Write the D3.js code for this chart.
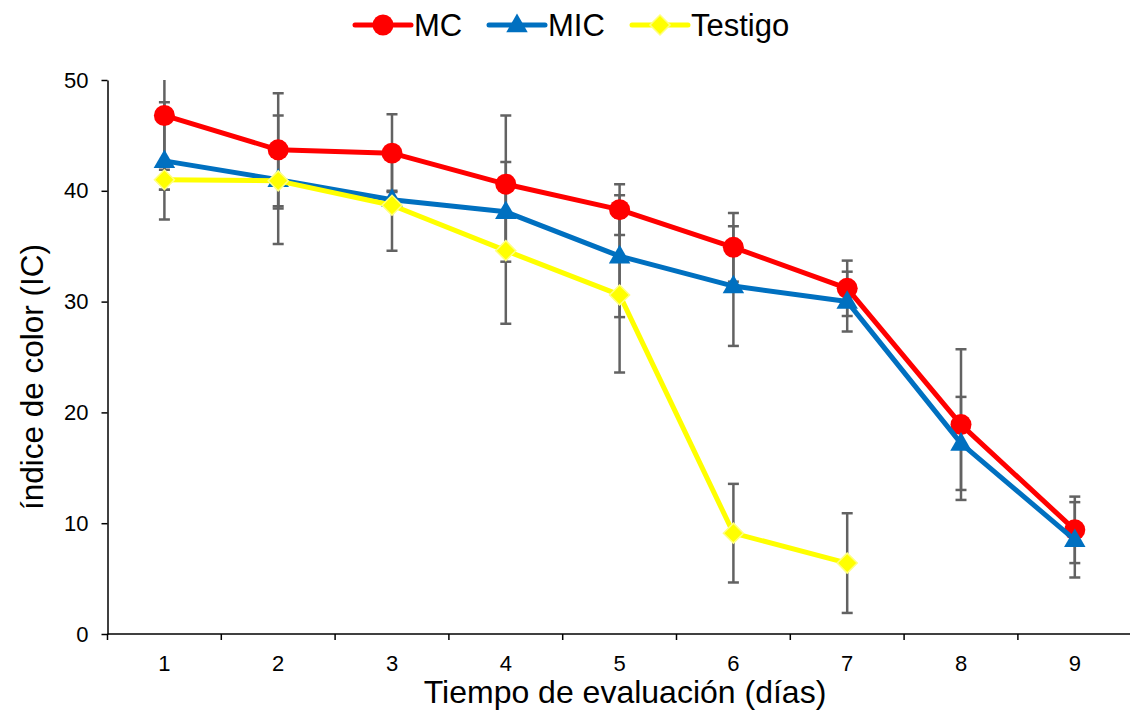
<!DOCTYPE html>
<html>
<head>
<meta charset="utf-8">
<script src="https://cdn.jsdelivr.net/npm/d3@7"></script>
<style>
  body { margin: 0; background: #fff; }
  text { font-family: "Liberation Sans", Arial, sans-serif; fill: #000; }
</style>
</head>
<body>
<div id="chart"></div>
<script>
// días de evaluación
const days = ["1", "2", "3", "4", "5", "6", "7", "8", "9"];

// índice de color, media por tratamiento
const mcValues = [46.8, 43.7, 43.4, 40.6, 38.3, 34.9, 31.2, 18.9, 9.4];
const micValues = [42.7, 41.0, 39.2, 38.1, 34.1, 31.4, 30.0, 17.2, 8.5];
const testigoValues = [41.0, 40.9, 38.7, 34.6, 30.6, 9.1, 6.4, null, null];

// desviación (barras de error)
const mcErr = [6.7, 5.1, 3.5, 6.2, 2.3, 3.1, 2.5, 6.8, 3.0];
const micErr = [5.3, 5.8, 0.8, 4.5, 5.5, 5.4, 2.7, 4.2, 3.4];
const testigoErr = [0.9, 2.5, 4.1, 6.6, 7.0, 4.45, 4.5, null, null];

const yTicks = [0, 10, 20, 30, 40, 50];

const seriesNames = ["MC", "MIC", "Testigo"];

const W = 1130, H = 721;
const margin = {top: 80, left: 107.5, bottom: 87};
const plotW = 113.8 * days.length;
const plotH = H - margin.top - margin.bottom;

const series = [
  {name: seriesNames[0], values: mcValues, err: mcErr, color: "#FF0000", symbol: "circle"},
  {name: seriesNames[1], values: micValues, err: micErr, color: "#0070C0", symbol: "triangle"},
  {name: seriesNames[2], values: testigoValues, err: testigoErr, color: "#FFFF00", symbol: "diamond"}
];

const svg = d3.select("#chart")
  .append("svg")
    .attr("width", W)
    .attr("height", H);

const g = svg.append("g")
    .attr("transform", `translate(${margin.left},${margin.top})`);

const x = d3.scaleBand()
    .domain(days)
    .range([0, plotW]);

const y = d3.scaleLinear()
    .domain([0, 50])
    .range([plotH, 0]);

svg.append("clipPath").attr("id", "plotClip")
  .append("rect")
    .attr("x", 0).attr("y", 0)
    .attr("width", plotW).attr("height", plotH);

// eje Y
g.append("g")
    .call(d3.axisLeft(y).tickValues(yTicks).tickSize(6).tickSizeOuter(0).tickPadding(13))
    .call(a => a.select(".domain").attr("stroke", "#000").attr("stroke-width", 1.5))
    .call(a => a.selectAll(".tick line").attr("stroke", "#000").attr("stroke-width", 1.5))
    .call(a => a.selectAll("text").attr("font-size", "22px"));

// eje X: marcas entre categorías
const xAxis = g.append("g").attr("transform", `translate(0,${plotH})`);
xAxis.append("line")
    .attr("x1", 0).attr("x2", plotW)
    .attr("stroke", "#000").attr("stroke-width", 1.5);
xAxis.selectAll("line.tk")
  .data(days.concat(["end"]))
  .enter().append("line")
    .attr("class", "tk")
    .attr("x1", (d, i) => i * x.step())
    .attr("x2", (d, i) => i * x.step())
    .attr("y1", 0).attr("y2", 6)
    .attr("stroke", "#000").attr("stroke-width", 1.5);
xAxis.selectAll("text")
  .data(days)
  .enter().append("text")
    .attr("x", d => x(d) + x.bandwidth() / 2)
    .attr("y", 37)
    .attr("text-anchor", "middle")
    .attr("font-size", "22px")
    .text(d => d);

// títulos
svg.append("text")
    .attr("x", 625)
    .attr("y", 703)
    .attr("text-anchor", "middle")
    .attr("font-size", "32px")
    .text("Tiempo de evaluación (días)");

svg.append("text")
    .attr("transform", "translate(43,377) rotate(-90)")
    .attr("text-anchor", "middle")
    .attr("font-size", "31.5px")
    .text("índice de color (IC)");

// barras de error
const errG = g.append("g").attr("clip-path", "url(#plotClip)");
series.forEach(s => {
  s.values.forEach((v, i) => {
    if (v == null) return;
    const cx = x(days[i]) + x.bandwidth() / 2;
    const e = s.err[i];
    const eg = errG.append("g").attr("stroke", "#626262").attr("stroke-width", 2.5);
    eg.append("line").attr("x1", cx).attr("x2", cx).attr("y1", y(v + e)).attr("y2", y(v - e));
    eg.append("line").attr("x1", cx - 5.5).attr("x2", cx + 5.5).attr("y1", y(v + e)).attr("y2", y(v + e));
    eg.append("line").attr("x1", cx - 5.5).attr("x2", cx + 5.5).attr("y1", y(v - e)).attr("y2", y(v - e));
  });
});

const symbolFor = {
  circle: d3.symbol().type(d3.symbolCircle).size(346),
  triangle: d3.symbol().type(d3.symbolTriangle).size(200),
  diamond: d3.symbol().type(d3.symbolSquare).size(200)
};

function drawMarker(sel, s, cx, cy) {
  const p = sel.append("path")
    .attr("d", symbolFor[s.symbol]())
    .attr("fill", s.color);
  if (s.symbol === "diamond") {
    p.attr("transform", `translate(${cx},${cy}) rotate(45)`)
     .attr("stroke", "#FFFF80").attr("stroke-width", 1.5);
  } else if (s.symbol === "triangle") {
    p.attr("transform", `translate(${cx},${cy + 1})`);
  } else {
    p.attr("transform", `translate(${cx},${cy})`);
  }
}

// líneas y marcadores
const line = d3.line()
    .defined(d => d.v != null)
    .x(d => x(d.day) + x.bandwidth() / 2)
    .y(d => y(d.v));

series.forEach(s => {
  const pts = s.values.map((v, i) => ({day: days[i], v: v}));
  g.append("path")
    .datum(pts)
    .attr("d", line)
    .attr("fill", "none")
    .attr("stroke", s.color)
    .attr("stroke-width", 5)
    .attr("stroke-linejoin", "round");
  const mg = g.append("g");
  pts.filter(d => d.v != null).forEach(d => {
    drawMarker(mg, s, x(d.day) + x.bandwidth() / 2, y(d.v));
  });
});

// leyenda
const legendX = [355, 489, 632];
const legend = svg.append("g");
series.forEach((s, i) => {
  const lx = legendX[i];
  legend.append("line")
    .attr("x1", lx).attr("x2", lx + 56)
    .attr("y1", 25).attr("y2", 25)
    .attr("stroke", s.color).attr("stroke-width", 5)
    .attr("stroke-linecap", "round");
  drawMarker(legend, s, lx + 28, 25);
  legend.append("text")
    .attr("x", lx + 59)
    .attr("y", 36)
    .attr("font-size", "31px")
    .text(s.name);
});
</script>
</body>
</html>
